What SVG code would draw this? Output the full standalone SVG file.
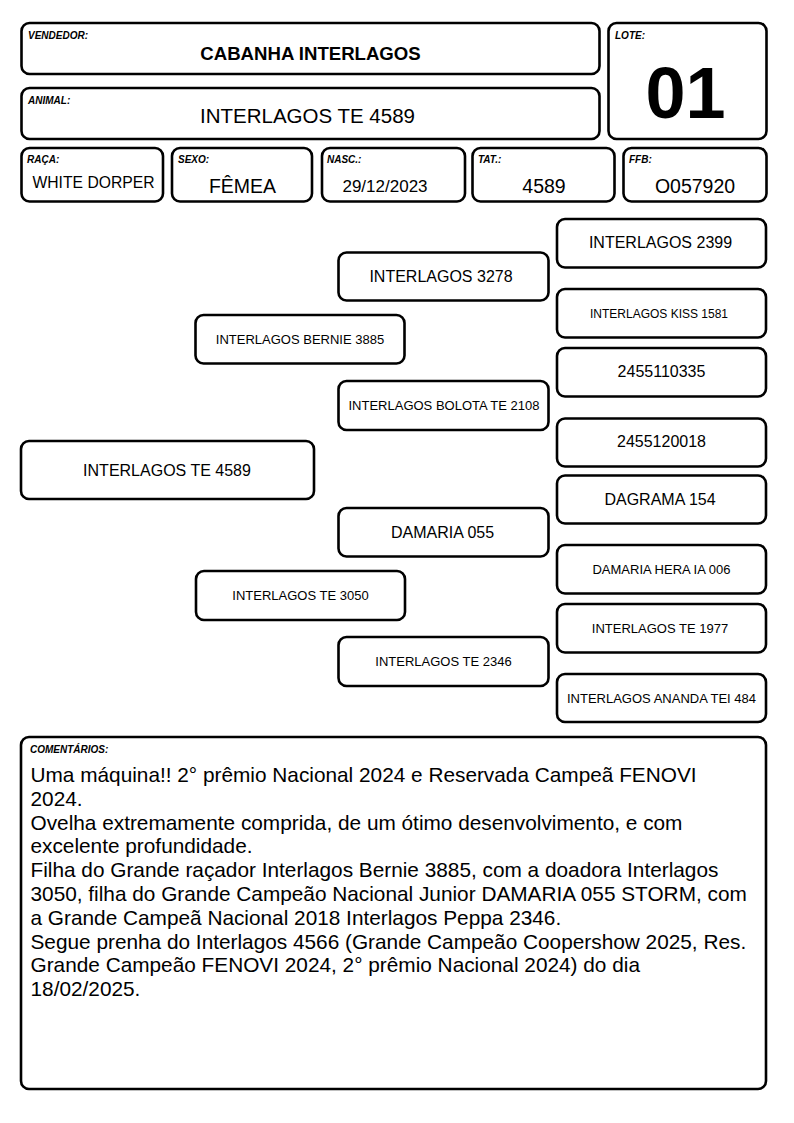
<svg xmlns="http://www.w3.org/2000/svg" width="794" height="1123" viewBox="0 0 794 1123">
<style>
.box{fill:#fff;stroke:#000;stroke-width:2.6}
.lbl{font-family:"Liberation Sans",Arial,sans-serif;font-size:10px;font-weight:bold;font-style:italic;fill:#000}
.t{font-family:"Liberation Sans",Arial,sans-serif;fill:#000;text-anchor:middle}
.big{font-size:16px}
.sm{font-size:13px}
.val{font-size:19.5px}
.cm{font-family:"Liberation Sans",Arial,sans-serif;font-size:20.8px;fill:#000}
</style>
<rect width="794" height="1123" fill="#fff"/>
<g id="vendedor">
<rect class="box" x="21.5" y="23" width="578" height="51" rx="8"/>
<text class="lbl" x="28" y="39">VENDEDOR:</text>
<text class="t" x="310.5" y="60" font-size="18.6" font-weight="bold">CABANHA INTERLAGOS</text>
</g>
<g id="animal">
<rect class="box" x="21.5" y="88" width="578" height="51" rx="8"/>
<text class="lbl" x="28" y="103.5">ANIMAL:</text>
<text class="t" x="307.5" y="123" font-size="20.5">INTERLAGOS TE 4589</text>
</g>
<g id="lote">
<rect class="box" x="608.5" y="23" width="158" height="116" rx="8"/>
<text class="lbl" x="615" y="39">LOTE:</text>
<text class="t" x="685.5" y="118" font-size="72" font-weight="bold">01</text>
</g>
<g id="raca">
<rect class="box" x="21.5" y="148" width="141.5" height="53.5" rx="8"/>
<text class="lbl" x="27" y="162.5">RAÇA:</text>
<text class="t" x="93.5" y="188" font-size="15.7">WHITE DORPER</text>
</g>
<g id="sexo">
<rect class="box" x="172" y="148" width="140" height="53.5" rx="8"/>
<text class="lbl" x="178" y="162.5">SEXO:</text>
<text class="t val" x="242.5" y="192.5">FÊMEA</text>
</g>
<g id="nasc">
<rect class="box" x="322" y="148" width="143" height="53.5" rx="8"/>
<text class="lbl" x="327" y="162.5">NASC.:</text>
<text class="t" x="385" y="192" font-size="17">29/12/2023</text>
</g>
<g id="tat">
<rect class="box" x="472.5" y="148" width="142" height="53.5" rx="8"/>
<text class="lbl" x="478" y="162.5">TAT.:</text>
<text class="t val" x="544" y="192.5">4589</text>
</g>
<g id="ffb">
<rect class="box" x="623.5" y="148" width="143" height="53.5" rx="8"/>
<text class="lbl" x="629" y="162.5">FFB:</text>
<text class="t val" x="695" y="192.5">O057920</text>
</g>
<g id="connectors"></g>
<g id="p-animal">
<rect class="box" x="21" y="441" width="293" height="58" rx="8"/>
<text class="t big" x="167" y="475.5">INTERLAGOS TE 4589</text>
</g>
<g id="p-sire">
<rect class="box" x="195.5" y="315" width="209" height="48.5" rx="8"/>
<text class="t sm" x="300" y="344">INTERLAGOS BERNIE 3885</text>
</g>
<g id="p-dam">
<rect class="box" x="196" y="571" width="209" height="49" rx="8"/>
<text class="t sm" x="300.5" y="600">INTERLAGOS TE 3050</text>
</g>
<g id="p-ss">
<rect class="box" x="338.5" y="252.5" width="210" height="48" rx="8"/>
<text class="t big" x="441" y="281.5">INTERLAGOS 3278</text>
</g>
<g id="p-sd">
<rect class="box" x="338.5" y="381" width="210" height="49" rx="8"/>
<text class="t sm" x="444" y="410">INTERLAGOS BOLOTA TE 2108</text>
</g>
<g id="p-ds">
<rect class="box" x="338.5" y="508" width="210" height="48.5" rx="8"/>
<text class="t big" x="442.5" y="537.5">DAMARIA 055</text>
</g>
<g id="p-dd">
<rect class="box" x="338.5" y="637" width="210" height="49" rx="8"/>
<text class="t sm" x="443.5" y="665.5">INTERLAGOS TE 2346</text>
</g>
<g id="p-sss">
<rect class="box" x="557" y="219" width="209" height="48.5" rx="8"/>
<text class="t big" x="660.5" y="248">INTERLAGOS 2399</text>
</g>
<g id="p-ssd">
<rect class="box" x="557" y="289" width="209" height="48.5" rx="8"/>
<text class="t" x="659" y="317.5" font-size="12">INTERLAGOS KISS 1581</text>
</g>
<g id="p-sds">
<rect class="box" x="557" y="348" width="209" height="48.5" rx="8"/>
<text class="t big" x="661.5" y="377">2455110335</text>
</g>
<g id="p-sdd">
<rect class="box" x="557" y="418.5" width="209" height="48" rx="8"/>
<text class="t big" x="661.5" y="447">2455120018</text>
</g>
<g id="p-dss">
<rect class="box" x="557" y="475.5" width="209" height="48" rx="8"/>
<text class="t big" x="660" y="504.5">DAGRAMA 154</text>
</g>
<g id="p-dsd">
<rect class="box" x="557" y="545" width="209" height="48.5" rx="8"/>
<text class="t sm" x="661.5" y="573.5">DAMARIA HERA IA 006</text>
</g>
<g id="p-dds">
<rect class="box" x="557" y="604" width="209" height="48.5" rx="8"/>
<text class="t sm" x="660" y="632.5">INTERLAGOS TE 1977</text>
</g>
<g id="p-ddd">
<rect class="box" x="557" y="674" width="209" height="48" rx="8"/>
<text class="t sm" x="661.5" y="702.5">INTERLAGOS ANANDA TEI 484</text>
</g>
<g id="comentarios">
<rect class="box" x="21" y="737" width="745" height="352" rx="8"/>
<text class="lbl" x="30" y="752.5">COMENTÁRIOS:</text>
<text class="cm" x="30.5" y="782">Uma máquina!! 2° prêmio Nacional 2024 e Reservada Campeã FENOVI</text>
<text class="cm" x="30.5" y="805.8">2024.</text>
<text class="cm" x="30.5" y="829.6">Ovelha extremamente comprida, de um ótimo desenvolvimento, e com</text>
<text class="cm" x="30.5" y="853.4">excelente profundidade.</text>
<text class="cm" x="30.5" y="877.2">Filha do Grande raçador Interlagos Bernie 3885, com a doadora Interlagos</text>
<text class="cm" x="30.5" y="901">3050, filha do Grande Campeão Nacional Junior DAMARIA 055 STORM, com</text>
<text class="cm" x="30.5" y="924.8">a Grande Campeã Nacional 2018 Interlagos Peppa 2346.</text>
<text class="cm" x="30.5" y="948.6">Segue prenha do Interlagos 4566 (Grande Campeão Coopershow 2025, Res.</text>
<text class="cm" x="30.5" y="972.4">Grande Campeão FENOVI 2024, 2° prêmio Nacional 2024) do dia</text>
<text class="cm" x="30.5" y="996.2">18/02/2025.</text>
</g>
</svg>
